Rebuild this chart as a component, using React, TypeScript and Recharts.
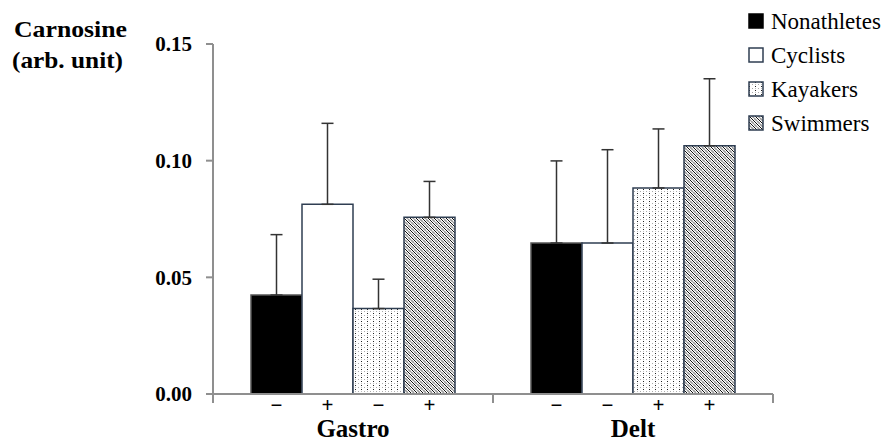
import React from "react";
import {
  BarChart,
  Bar,
  XAxis,
  YAxis,
  ErrorBar,
  LabelList,
  Legend,
} from "recharts";

const categories = ["Gastro", "Delt"];

const nonathletes = [0.0424, 0.0647];
const cyclists = [0.0813, 0.0647];
const kayakers = [0.0366, 0.0883];
const swimmers = [0.0757, 0.1064];

// upper SD only
const nonathletesSD = [0.0259, 0.0352];
const cyclistsSD = [0.0347, 0.04];
const kayakersSD = [0.0126, 0.0253];
const swimmersSD = [0.0154, 0.0287];

// training signs under each bar
const nonathletesSign = ["\u2212", "\u2212"];
const cyclistsSign = ["+", "\u2212"];
const kayakersSign = ["\u2212", "+"];
const swimmersSign = ["+", "+"];

const yTicks = [0, 0.05, 0.1, 0.15];

const SERIF = "Liberation Serif, DejaVu Serif, Times New Roman, serif";
const AXIS = "#8f8f8f";
const EDGE = "#2f3e52";

const data = categories.map((name, i) => ({
  name,
  non: nonathletes[i],
  cyc: cyclists[i],
  kay: kayakers[i],
  swi: swimmers[i],
  nonErr: [0, nonathletesSD[i]],
  cycErr: [0, cyclistsSD[i]],
  kayErr: [0, kayakersSD[i]],
  swiErr: [0, swimmersSD[i]],
  nonSign: nonathletesSign[i],
  cycSign: cyclistsSign[i],
  kaySign: kayakersSign[i],
  swiSign: swimmersSign[i],
}));

const series = [
  { key: "non", label: "Nonathletes", fill: "#000", stroke: "#555" },
  { key: "cyc", label: "Cyclists", fill: "#fff", stroke: EDGE },
  { key: "kay", label: "Kayakers", fill: "url(#dots)", stroke: EDGE },
  { key: "swi", label: "Swimmers", fill: "url(#hatch)", stroke: EDGE },
];

function SignLabel(props: any) {
  const { x, y, width, height, value } = props;
  return (
    <text
      x={x + width / 2}
      y={y + height + 18}
      textAnchor="middle"
      style={{ fontFamily: SERIF, fontWeight: "bold", fontSize: 21 }}
      fill="#000"
    >
      {value}
    </text>
  );
}

function CategoryTick(props: any) {
  const { x, y, payload, width, visibleTicksCount } = props;
  const half =
    payload.offset != null ? payload.offset : width / visibleTicksCount / 2;
  return (
    <g>
      <line x1={x - half} x2={x - half} y1={y} y2={y + 9} stroke={AXIS} strokeWidth={2} />
      <line x1={x + half} x2={x + half} y1={y} y2={y + 9} stroke={AXIS} strokeWidth={2} />
      <text
        x={x}
        y={y + 43}
        textAnchor="middle"
        style={{ fontFamily: SERIF, fontWeight: "bold", fontSize: 25 }}
        fill="#000"
      >
        {payload.value}
      </text>
    </g>
  );
}

function YTitle() {
  return (
    <g style={{ fontFamily: SERIF, fontWeight: "bold", fontSize: 23 }} fill="#000">
      <text x={14} y={37} textLength={113} lengthAdjust="spacingAndGlyphs">
        Carnosine
      </text>
      <text x={12} y={68} textLength={111} lengthAdjust="spacingAndGlyphs">
        (arb. unit)
      </text>
    </g>
  );
}

function LegendBox() {
  return (
    <div style={{ fontFamily: SERIF, fontSize: 23, color: "#000", lineHeight: 1 }}>
      {series.map((s) => (
        <div
          key={s.key}
          style={{ display: "flex", alignItems: "center", height: 34 }}
        >
          <svg width={16} height={16} style={{ marginRight: 7 }}>
            <rect
              x={1}
              y={1}
              width={14}
              height={14}
              fill={s.fill}
              stroke={s.key === "non" ? "#000" : EDGE}
              strokeWidth={1.5}
            />
          </svg>
          <span>{s.label}</span>
        </div>
      ))}
    </div>
  );
}

export default function App() {
  return (
    <div
      style={{
        position: "absolute",
        left: 0,
        top: 0,
        width: 896,
        height: 441,
        background: "#fff",
      }}
    >
      <BarChart
        width={896}
        height={441}
        data={data}
        margin={{ top: 44, right: 123, bottom: 0, left: 0 }}
        barSize={51}
        barGap={0}
      >
        <defs>
          <pattern id="dots" patternUnits="userSpaceOnUse" width={6} height={4}>
            <rect width={6} height={4} fill="#fff" />
            <rect x={1} y={1} width={1} height={1} fill="#222" />
            <rect x={4} y={3} width={1} height={1} fill="#aaa" />
            <rect x={1} y={3} width={1} height={1} fill="#bbb" />
          </pattern>
          <pattern id="hatch" patternUnits="userSpaceOnUse" width={6} height={6}>
            <rect width={6} height={6} fill="#fff" />
            <path d="M0,0 L6,6" stroke="#111" strokeWidth={1} />
            <path d="M3,0 L6,3 M0,3 L3,6" stroke="#999" strokeWidth={1.6} />
          </pattern>
        </defs>
        <XAxis
          dataKey="name"
          height={47}
          axisLine={{ stroke: AXIS, strokeWidth: 2 }}
          tickLine={false}
          tickSize={0}
          tickMargin={0}
          tick={<CategoryTick />}
          interval={0}
        />
        <YAxis
          width={213}
          domain={[0, 0.15]}
          ticks={yTicks}
          tickFormatter={(v: number) => v.toFixed(2)}
          axisLine={{ stroke: AXIS, strokeWidth: 2 }}
          tickLine={{ stroke: AXIS, strokeWidth: 2 }}
          tickSize={7}
          tickMargin={14}
          tick={{
            fill: "#000",
            fontFamily: SERIF,
            fontWeight: "bold",
            fontSize: 21,
          }}
          label={{ content: <YTitle /> }}
        />
        <Legend
          layout="vertical"
          align="center"
          verticalAlign="middle"
          content={<LegendBox />}
          wrapperStyle={{ position: "absolute", top: 4, left: 748, width: 148 }}
        />
        {series.map((s) => (
          <Bar
            key={s.key}
            dataKey={s.key}
            name={s.label}
            fill={s.fill}
            stroke={s.stroke}
            strokeWidth={1.5}
            isAnimationActive={false}
          >
            <ErrorBar
              dataKey={s.key + "Err"}
              direction="y"
              width={6}
              stroke="#333"
              strokeWidth={1.5}
            />
            <LabelList dataKey={s.key + "Sign"} content={<SignLabel />} />
          </Bar>
        ))}
      </BarChart>
    </div>
  );
}
